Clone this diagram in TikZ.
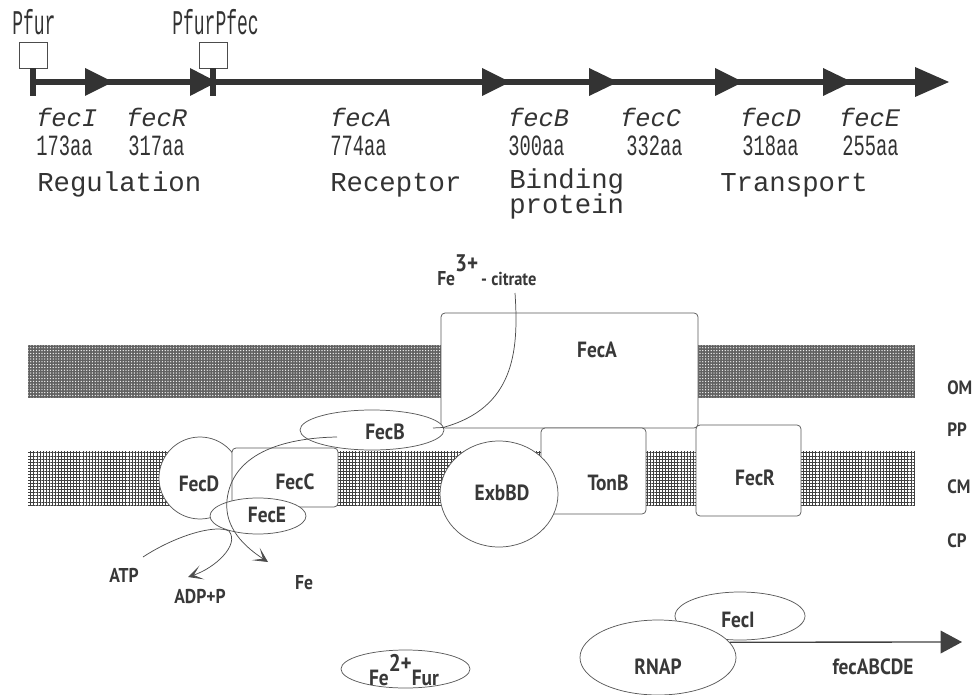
\documentclass[tikz,border=0pt]{standalone}
\usepackage{graphicx}
\usepackage{fontspec}
\setmainfont{PT Sans}
\newfontfamily\monof{Liberation Mono}
\usetikzlibrary{patterns.meta,arrows.meta,shapes.geometric}
\newcommand\genefont{\monof\itshape\fontsize{19}{19}\selectfont}
\newcommand\catfont{\monof\fontsize{20.5}{20.5}\selectfont}
\newcommand\aatext[1]{\scalebox{0.64}[1]{\monof\fontsize{22}{22}\selectfont #1}}
\newcommand\ptext[1]{\scalebox{0.52}[1]{\monof\fontsize{26}{26}\selectfont #1}}
\newcommand\labfont{\bfseries\fontsize{16.5}{16.5}\selectfont}
\newcommand\lab[1]{\scalebox{0.88}[1]{#1}}
\begin{document}
\begin{tikzpicture}[x=0.75pt,y=-0.75pt,
  gline/.style={draw=black!80, line width=3.8pt},
  tri/.style={fill=black!80},
  stemline/.style={draw=black!80, line width=3.8pt},
  pbox/.style={draw=black!70, line width=0.6pt, fill=white, minimum width=21pt, minimum height=19.5pt, inner sep=0pt},
  shp/.style={draw=black!65, line width=0.55pt, fill=white, inner sep=0pt},
  rbox/.style={shp, rectangle, rounded corners=3pt},
  ell/.style={shp, ellipse},
  lab/.style={text=black!78, inner sep=0pt, font=\labfont},
  fepath/.style={draw=black!70, line width=0.55pt},
  chev/.style={-{Stealth[length=11pt,width=11pt,inset=6.5pt]}},
  mono/.style={text=black!80, inner sep=0pt, anchor=base west}
]
\useasboundingbox (0,0) rectangle (977,695);

% ---------------- gene map ----------------
\draw[gline] (33,82) -- (925,82);
\fill[tri] (85,68) -- (113,82) -- (85,96) -- cycle;
\fill[tri] (190,68) -- (217,82) -- (190,96) -- cycle;
\fill[tri] (482,68) -- (510,82) -- (482,96) -- cycle;
\fill[tri] (589,68) -- (618,82) -- (589,96) -- cycle;
\fill[tri] (715,68) -- (743,82) -- (715,96) -- cycle;
\fill[tri] (823,68) -- (852,82) -- (823,96) -- cycle;
\fill[tri] (915,67) -- (949,82) -- (915,97) -- cycle;
\node[pbox] (pb1) at (33,55) {};
\node[pbox] (pb2) at (213,55) {};
\coordinate (st1) at (33,96);
\coordinate (st2) at (213,96);
\draw[stemline] (pb1.south) -- (st1);
\draw[stemline] (pb2.south) -- (st2);
\node[mono] (pfur) at (12,35) {\ptext{Pfur}};
\node[mono] (pfurfec) at (172,35) {\ptext{PfurPfec}};

\node[mono] (gI) at (36,127) {\genefont fecI};
\node[mono] (gR) at (126,127) {\genefont fecR};
\node[mono] (gA) at (330,127) {\genefont fecA};
\node[mono] (gB) at (508,127) {\genefont fecB};
\node[mono] (gC) at (620,127) {\genefont fecC};
\node[mono] (gD) at (740,127) {\genefont fecD};
\node[mono] (gE) at (839,127) {\genefont fecE};

\node[mono] (aI) at (36,156) {\aatext{173aa}};
\node[mono] (aR) at (128,156) {\aatext{317aa}};
\node[mono] (aA) at (330,156) {\aatext{774aa}};
\node[mono] (aB) at (508,156) {\aatext{300aa}};
\node[mono] (aC) at (626,156) {\aatext{332aa}};
\node[mono] (aD) at (742,156) {\aatext{318aa}};
\node[mono] (aE) at (842,156) {\aatext{255aa}};

\node[mono] (cReg) at (37,192) {\catfont Regulation};
\node[mono] (cRec) at (330,192) {\catfont Receptor};
\node[mono] (cBin) at (509,189) {\catfont Binding};
\node[mono] (cPro) at (509,214) {\catfont protein};
\node[mono] (cTra) at (720,192) {\catfont Transport};

% ---------------- membranes ----------------
\fill[black!62] (28,345) rectangle (915,398);
\fill[pattern={Dots[distance=2.1pt,radius=0.5pt]}, pattern color=white] (28,345) rectangle (915,398);
\fill[white] (28,451) rectangle (915,505);
\fill[pattern={Hatch[distance=2.3pt,angle=0,line width=0.4pt]}, pattern color=black!75] (28,451) rectangle (915,505);

% ---------------- proteins ----------------
\node[rbox, minimum width=192.75pt, minimum height=86.25pt] (fecA) at (569.5,370.5) {};
\node[rbox, minimum width=78.75pt, minimum height=64.5pt] (tonB) at (593.5,471) {};
\node[rbox, minimum width=78.75pt, minimum height=68.25pt] (fecR) at (748.5,470.5) {};
\node[ell, minimum width=88.5pt, minimum height=79.5pt] (exb) at (499,494) {};
\node[ell, minimum width=61.5pt, minimum height=61.5pt] (fecD) at (200,478) {};
\node[rbox, minimum width=79.5pt, minimum height=44.25pt] (fecC) at (285,477.5) {};
\node[ell, minimum width=108pt, minimum height=30pt] (fecB) at (372,430) {};
\node[ell, minimum width=72pt, minimum height=27pt] (fecE) at (258,516) {};

\coordinate (aBL) at (443,427.5);
\coordinate (bIn) at (433,428);
\draw[fepath] (bIn) -- (aBL);

% labels
\node[lab] (tA) at (597,350) {\lab{FecA}};
\node[lab] (tTon) at (608,483) {\lab{TonB}};
\node[lab] (tR) at (755,478) {\lab{FecR}};
\node[lab] (tExb) at (502,493) {\lab{ExbBD}};
\node[lab] (tB) at (385,432) {\lab{FecB}};
\node[lab] (tC) at (295,482) {\lab{FecC}};
\node[lab] (tD) at (199,484) {\lab{FecD}};
\node[lab] (tE) at (267,515) {\lab{FecE}};

\node[lab, anchor=west, font=\bfseries\fontsize{14.5}{14.5}\selectfont] (om) at (947,388) {\lab{OM}};
\node[lab, anchor=west, font=\bfseries\fontsize{14.5}{14.5}\selectfont] (pp) at (947,430) {\lab{PP}};
\node[lab, anchor=west, font=\bfseries\fontsize{14.5}{14.5}\selectfont] (cm) at (947,487) {\lab{CM}};
\node[lab, anchor=west, font=\bfseries\fontsize{14.5}{14.5}\selectfont] (cp) at (947,541) {\lab{CP}};

% Fe3+ citrate
\node[lab, anchor=base west, font=\bfseries\fontsize{15}{15}\selectfont] (cit) at (437,285)
  {\lab{Fe\raisebox{10pt}{\fontsize{18}{18}\selectfont 3+}\,{\fontsize{14}{14}\selectfont - citrate}}};
\coordinate (citS) at (515,293);
\draw[fepath] (citS) .. controls (519,352) and (514,408) .. (aBL);

% Fe path through FecB / FecC to cytoplasm
\coordinate (bL) at (337,437);
\coordinate (feTip) at (268,562);
\draw[fepath, chev] (bL) .. controls (280,438) and (232,455) .. (227,500)
  .. controls (224,528) and (245,547) .. (feTip);

% ATP -> ADP+P
\node[lab, font=\bfseries\fontsize{15}{15}\selectfont] (atp) at (124,575) {\lab{ATP}};
\node[lab, font=\bfseries\fontsize{15}{15}\selectfont] (adp) at (200,597) {\lab{ADP+P}};
\node[lab, font=\bfseries\fontsize{15}{15}\selectfont] (fe) at (304,583) {\lab{Fe}};
\coordinate (atpS) at (143,557);
\coordinate (adpT) at (188,577);
\draw[fepath, chev] (atpS) .. controls (175,536) and (215,524) .. (229,531)
  .. controls (240,545) and (215,568) .. (adpT);

% ---------------- transcription ----------------
\node[ell, minimum width=96.75pt, minimum height=28.5pt] (fur) at (405.5,669) {};
\node[lab] (tFur) at (404,670) {\lab{Fe\raisebox{11pt}{\fontsize{18}{18}\selectfont 2+}Fur}};
\node[ell, minimum width=97.5pt, minimum height=36pt] (fecI) at (740,616) {};
\node[ell, minimum width=117pt, minimum height=56.25pt] (rnap) at (658,657.5) {};
\node[lab] (tI) at (738,620) {\lab{FecI}};
\node[lab] (tRN) at (658,667) {\lab{RNAP}};
\coordinate (tx) at (962,642);
\draw[draw=black!75, line width=1pt, -{Triangle[length=16pt,width=17pt]}] (rnap.12) -- (tx);
\node[lab] (tABC) at (873,667) {\lab{fecABCDE}};
\end{tikzpicture}
\end{document}
